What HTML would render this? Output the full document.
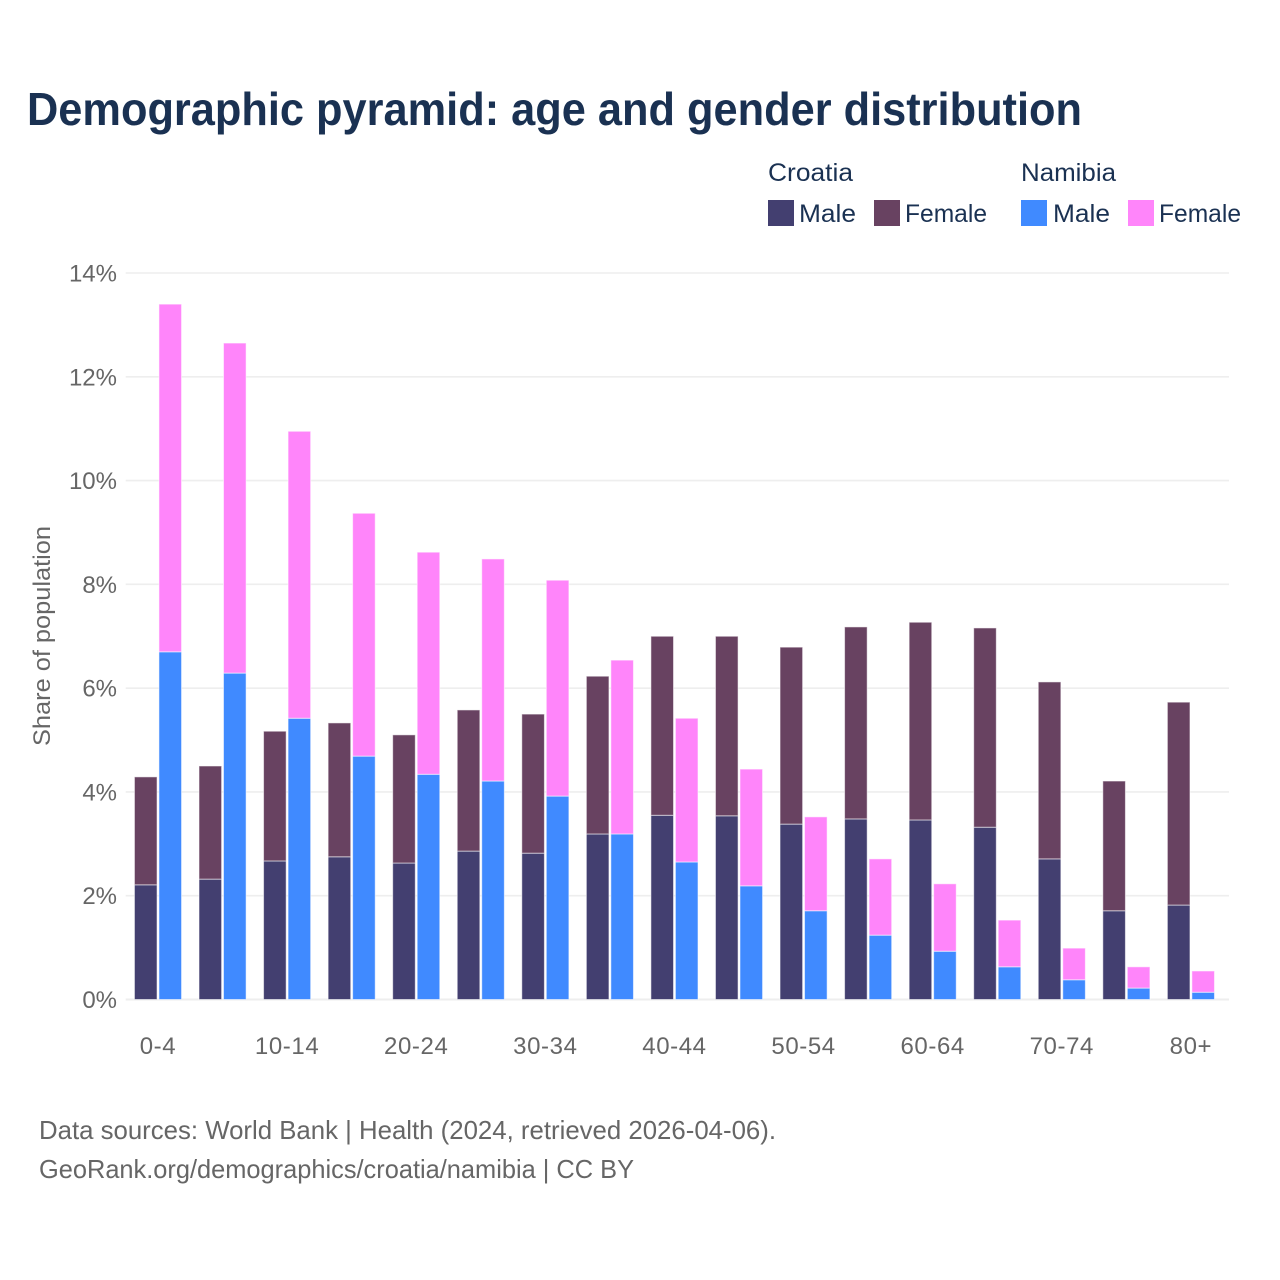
<!DOCTYPE html>
<html lang="en">
<head>
<meta charset="utf-8">
<title>Demographic pyramid: age and gender distribution</title>
<style>
  html, body { margin: 0; padding: 0; background: #fff; }
  svg { display: block; font-family: "Liberation Sans", "DejaVu Sans", sans-serif; }
</style>
</head>
<body>
<svg id="chart" xmlns="http://www.w3.org/2000/svg" width="1280" height="1280" viewBox="0 0 1280 1280">
  <rect x="0" y="0" width="1280" height="1280" fill="#ffffff"/>
  <text x="27" y="125" font-size="46" font-weight="700" fill="#1a3152" textLength="1055" lengthAdjust="spacingAndGlyphs">Demographic pyramid: age and gender distribution</text>

  <g fill="#1a3152" font-size="25">
    <text x="768" y="181" textLength="85" lengthAdjust="spacingAndGlyphs">Croatia</text>
    <text x="1021" y="181" textLength="95" lengthAdjust="spacingAndGlyphs">Namibia</text>
    <rect x="768" y="200" width="26" height="26" fill="#433f70"/>
    <text x="799" y="222" textLength="57" lengthAdjust="spacingAndGlyphs">Male</text>
    <rect x="874" y="200" width="26" height="26" fill="#684261"/>
    <text x="905" y="222" textLength="82" lengthAdjust="spacingAndGlyphs">Female</text>
    <rect x="1021" y="200" width="26" height="26" fill="#408aff"/>
    <text x="1053" y="222" textLength="57" lengthAdjust="spacingAndGlyphs">Male</text>
    <rect x="1128" y="200" width="26" height="26" fill="#ff85fa"/>
    <text x="1159" y="222" textLength="82" lengthAdjust="spacingAndGlyphs">Female</text>
  </g>

  <g id="grid"></g>
  <g id="yticks"></g>
  <g id="bars"></g>
  <g id="xticks"></g>

  <text transform="translate(50 636) rotate(-90)" text-anchor="middle" font-size="24" fill="#666666" textLength="220" lengthAdjust="spacingAndGlyphs">Share of population</text>

  <text x="39" y="1139" font-size="26" fill="#666666" textLength="737" lengthAdjust="spacingAndGlyphs">Data sources: World Bank | Health (2024, retrieved 2026-04-06).</text>
  <text x="39" y="1178" font-size="26" fill="#666666" textLength="595" lengthAdjust="spacingAndGlyphs">GeoRank.org/demographics/croatia/namibia | CC BY</text>
</svg>
<script>
const categories = ["0-4","5-9","10-14","15-19","20-24","25-29","30-34","35-39","40-44","45-49","50-54","55-59","60-64","65-69","70-74","75-79","80+"];
const xTickLabels = ["0-4","10-14","20-24","30-34","40-44","50-54","60-64","70-74","80+"];
const yTickValues = [0,2,4,6,8,10,12,14];
const croatiaMale = [2.21,2.32,2.67,2.75,2.63,2.86,2.82,3.19,3.55,3.54,3.38,3.48,3.46,3.32,2.71,1.71,1.82];
const croatiaFemale = [2.08,2.18,2.50,2.58,2.47,2.72,2.68,3.04,3.45,3.46,3.41,3.70,3.81,3.84,3.41,2.50,3.91];
const namibiaMale = [6.70,6.29,5.42,4.69,4.34,4.21,3.92,3.19,2.65,2.19,1.71,1.24,0.93,0.63,0.38,0.22,0.14];
const namibiaFemale = [6.70,6.36,5.53,4.68,4.28,4.28,4.16,3.35,2.77,2.25,1.81,1.47,1.30,0.90,0.61,0.41,0.41];

const NS = "http://www.w3.org/2000/svg";
const plotLeft = 125.72, bandRight = 1223.2, gridRight = 1229, plotBottom = 999.5, plotTop = 273;
const groupStep = (bandRight - plotLeft) / categories.length;
const barWidth = 22.6, barGap = 1.9;

function yScale(v) { return plotBottom - (v / 14) * (plotBottom - plotTop); }
function xCenter(i) { return plotLeft + groupStep * (i + 0.5); }

function makeNode(tag, attrs, parent) {
  const node = document.createElementNS(NS, tag);
  for (const k in attrs) node.setAttribute(k, attrs[k]);
  parent.appendChild(node);
  return node;
}

const gridGroup = document.getElementById("grid");
const yTickGroup = document.getElementById("yticks");
yTickValues.forEach(function (t) {
  const line = makeNode("line", { x1: plotLeft, x2: gridRight, y1: yScale(t), y2: yScale(t), stroke: "#eeeeee", "stroke-width": t === 0 ? 2 : 1.6 }, gridGroup);
  
  
  const label = makeNode("text", { x: 117, y: yScale(t) + 8.5, "text-anchor": "end", "font-size": 24, fill: "#666666" }, yTickGroup);
  label.textContent = t + "%";
  
  
});

const barGroup = document.getElementById("bars");
function drawBar(x, base, value, color, name) {
  const top = yScale(base + value);
  const rect = makeNode("rect", { x: x, y: top, width: barWidth, height: yScale(base) - top, fill: color, stroke: "#ffffff", "stroke-opacity": 0.55, "stroke-width": 1 }, barGroup);
  
  
}
categories.forEach(function (c, i) {
  const leftX = xCenter(i) - barWidth - barGap / 2;
  const rightX = xCenter(i) + barGap / 2;
  drawBar(leftX, 0, croatiaMale[i], "#433f70", "bar-croatia-male");
  drawBar(leftX, croatiaMale[i], croatiaFemale[i], "#684261", "bar-croatia-female");
  drawBar(rightX, 0, namibiaMale[i], "#408aff", "bar-namibia-male");
  drawBar(rightX, namibiaMale[i], namibiaFemale[i], "#ff85fa", "bar-namibia-female");
});

const xTickGroup = document.getElementById("xticks");
xTickLabels.forEach(function (lab) {
  const i = categories.indexOf(lab);
  const label = makeNode("text", { x: xCenter(i), y: 1054, "text-anchor": "middle", "font-size": 24, fill: "#666666", "letter-spacing": "0.6" }, xTickGroup);
  label.textContent = lab;
  
  
});
</script>
</body>
</html>
